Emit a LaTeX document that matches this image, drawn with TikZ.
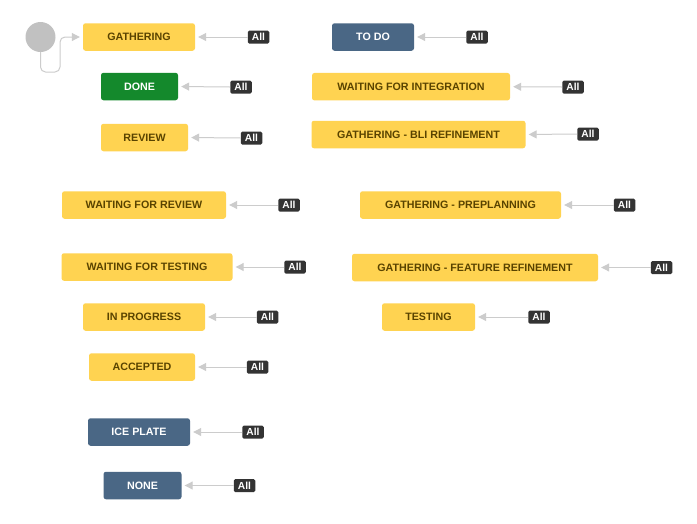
\documentclass[tikz,border=0pt]{standalone}
\usepackage{fontspec}
\setmainfont{Liberation Sans}
\usetikzlibrary{arrows.meta}
\definecolor{ylw}{HTML}{FFD351}
\definecolor{ytxt}{HTML}{594300}
\definecolor{grn}{HTML}{14892C}
\definecolor{blu}{HTML}{4A6785}
\definecolor{lbl}{HTML}{333333}
\definecolor{conn}{HTML}{CCCCCC}
\definecolor{startc}{HTML}{C1C1C1}
\tikzset{
  stbox/.style={rounded corners=2.5pt, inner sep=0pt, minimum height=27.5pt,
    font=\fontsize{10.7}{12}\selectfont\bfseries},
  yel/.style={stbox, fill=ylw, text=ytxt},
  gre/.style={stbox, fill=grn, text=white},
  blue/.style={stbox, fill=blu, text=white},
  lab/.style={fill=lbl, text=white, rounded corners=1.5pt, inner sep=0pt,
    minimum width=21.5pt, minimum height=13pt, font=\fontsize{10.2}{11}\selectfont\bfseries},
  arr/.style={draw=conn, line width=1pt, shorten >=3pt,
    -{Triangle[length=8pt,width=8pt,fill=conn,color=conn]}}
}
\begin{document}
\begin{tikzpicture}[x=1pt,y=-1pt]
\fill[white] (0,0) rectangle (697,523);
\useasboundingbox (0,0) rectangle (697,523);
% start
\node[circle, fill=startc, minimum size=30pt, inner sep=0pt] (s) at (40.5,37) {};
% left column
\node[yel, minimum width=112pt] (g) at (139,37) {GATHERING};
\node[lab] (lg) at (258.5,37) {All};
\node[gre, minimum width=77pt] (done) at (139.5,86.5) {DONE};
\node[lab] (ldone) at (241,87) {All};
\node[yel, minimum width=87pt] (rev) at (144.5,137.5) {REVIEW};
\node[lab] (lrev) at (251.5,138) {All};
\node[yel, minimum width=164pt] (wfr) at (144,205) {WAITING FOR REVIEW};
\node[lab] (lwfr) at (289,205) {All};
\node[yel, minimum width=171pt] (wft) at (147,267) {WAITING FOR TESTING};
\node[lab] (lwft) at (295,267) {All};
\node[yel, minimum width=122pt] (inp) at (144,317) {IN PROGRESS};
\node[lab] (linp) at (267.5,317) {All};
\node[yel, minimum width=106pt] (acc) at (142,367) {ACCEPTED};
\node[lab] (lacc) at (257.5,367) {All};
\node[blue, minimum width=102pt] (ice) at (139,432) {ICE PLATE};
\node[lab] (lice) at (253,432) {All};
\node[blue, minimum width=78pt] (none) at (142.5,485.5) {NONE};
\node[lab] (lnone) at (244.5,485.5) {All};
% right column
\node[blue, minimum width=82pt] (todo) at (373,37) {TO DO};
\node[lab] (ltodo) at (477,37) {All};
\node[yel, minimum width=198pt] (wfi) at (411,86.7) {WAITING FOR INTEGRATION};
\node[lab] (lwfi) at (573,87) {All};
\node[yel, minimum width=214pt] (bli) at (418.5,134.5) {GATHERING - BLI REFINEMENT};
\node[lab] (lbli) at (588,134) {All};
\node[yel, minimum width=201pt] (pre) at (460.5,205) {GATHERING - PREPLANNING};
\node[lab] (lpre) at (624.5,205) {All};
\node[yel, minimum width=246pt] (fea) at (475,267.5) {GATHERING - FEATURE REFINEMENT};
\node[lab] (lfea) at (661.5,267.5) {All};
\node[yel, minimum width=93pt] (tst) at (428.5,317) {TESTING};
\node[lab] (ltst) at (539,317) {All};
% connectors
\draw[arr, rounded corners=5pt] (s.south) -- (40.5,72) -- (60,72) -- (60,37) -- (g.west);
\foreach \a/\b in {lg/g, ldone/done, lrev/rev, lwfr/wfr, lwft/wft, linp/inp, lacc/acc,
  lice/ice, lnone/none, ltodo/todo, lwfi/wfi, lbli/bli, lpre/pre, lfea/fea, ltst/tst}
  \draw[arr] (\a.west) -- (\b.east);
\end{tikzpicture}
\end{document}
